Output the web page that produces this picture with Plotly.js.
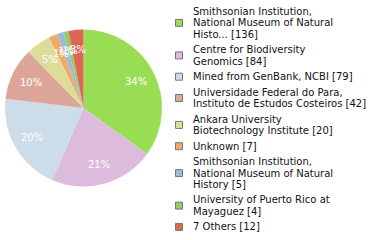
<!DOCTYPE html>
<html>
<head>
<meta charset="utf-8">
<script src="https://cdn.plot.ly/plotly-3.0.1.min.js"></script>
<style>html,body{margin:0;padding:0;background:#fff;}#chart{width:380px;height:240px;}</style>
</head>
<body>
<div id="chart"></div>
<script>
// Data
var labelLines = [
  ["Smithsonian Institution,", "National Museum of Natural", "Histo..."],
  ["Centre for Biodiversity", "Genomics"],
  ["Mined from GenBank, NCBI"],
  ["Universidade Federal do Para,", "Instituto de Estudos Costeiros"],
  ["Ankara University", "Biotechnology Institute"],
  ["Unknown"],
  ["Smithsonian Institution,", "National Museum of Natural", "History"],
  ["University of Puerto Rico at", "Mayaguez"],
  ["7 Others"]
];
var values = [136, 84, 79, 42, 20, 7, 5, 4, 12];
var colors = ["#99dd55", "#ddbbdd", "#ccdde9", "#dda59a", "#dddd99", "#eeaa66", "#99bbdd", "#99cc66", "#dd6655"];

var W = 380, H = 240;
var cx = 83.5, cy = 108, R = 78.5;
var total = values.reduce(function(a, b){ return a + b; }, 0);
var fullLabels = labelLines.map(function(l){ return l.join(" "); });

var trace = {
  type: "pie",
  labels: fullLabels,
  values: values,
  sort: false,
  direction: "clockwise",
  rotation: 0,
  textinfo: "none",
  hoverinfo: "label+value+percent",
  marker: {colors: colors, line: {width: 0}},
  showlegend: false,
  domain: {x: [(cx - R) / W, (cx + R) / W], y: [1 - (cy + R) / H, 1 - (cy - R) / H]}
};

var annotations = [];
var shapes = [];
// percentage labels (floor) at 0.75 of the radius on each slice's mid angle
var cum = 0;
values.forEach(function(v){
  var mid = (cum + v / 2) / total * 2 * Math.PI;
  cum += v;
  var k = 0.75 * R;
  var px = cx + k * Math.sin(mid), py = cy - k * Math.cos(mid);
  annotations.push({
    xref: "paper", yref: "paper", x: px / W, y: 1 - py / H,
    xanchor: "center", yanchor: "middle", showarrow: false,
    text: Math.floor(v / total * 100) + "%",
    font: {family: "DejaVu Sans", size: 10, color: "#ffffff"}
  });
});

// legend
var lineH = 11.2, gap = 4.5, legTop = 6.1;
labelLines.forEach(function(lines, i){
  var n = lines.length;
  var centerY = legTop + n * lineH / 2;
  shapes.push({
    type: "rect", xref: "paper", yref: "paper",
    x0: 175.5 / W, x1: 182.5 / W,
    y0: 1 - (centerY + 3.5) / H, y1: 1 - (centerY - 3.5) / H,
    fillcolor: colors[i], line: {color: "#777777", width: 1}
  });
  lines.forEach(function(t, j){
    var txt = t + (j === n - 1 ? " [" + values[i] + "]" : "");
    var ly = legTop + (j + 0.5) * lineH;
    annotations.push({
      xref: "paper", yref: "paper", x: 191 / W, y: 1 - ly / H,
      xanchor: "left", yanchor: "middle", showarrow: false,
      text: txt,
      font: {family: "DejaVu Sans", size: 10, color: "#111111"}
    });
  });
  legTop += n * lineH + gap;
});

var layout = {
  width: W, height: H,
  margin: {l: 0, r: 0, t: 0, b: 0},
  paper_bgcolor: "#ffffff",
  showlegend: false,
  annotations: annotations,
  shapes: shapes
};
Plotly.newPlot("chart", [trace], layout, {displayModeBar: false, staticPlot: true});
</script>
</body>
</html>
